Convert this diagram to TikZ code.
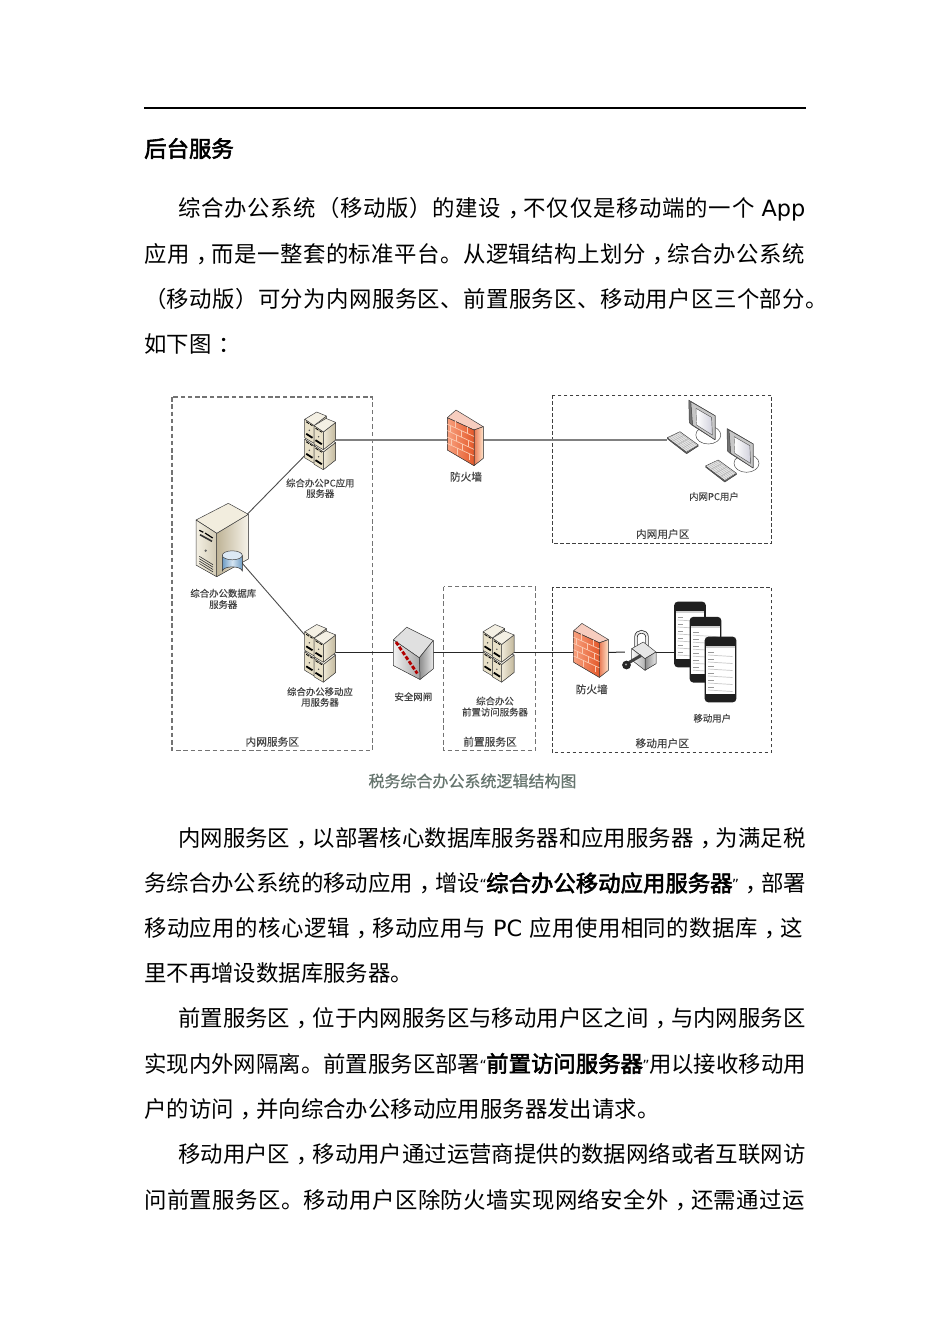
\documentclass[tikz,border=0pt]{standalone}
\usepackage{fontspec}
\usetikzlibrary{calc}
\setmainfont{Noto Sans CJK SC}
\newfontfamily\latinfont{DejaVu Sans}
\newcommand{\lat}[1]{{\latinfont #1}}
\newcommand{\spaced}[1]{\addfontfeature{LetterSpace=#1}}
\newcommand{\heavy}[1]{{\addfontfeature{FakeBold=2.5}#1}}
\newcommand{\cmm}{\kern.3em，\kern-.3em}
\newcommand{\cln}{\kern.3em：\kern-.3em}
\newcommand{\qopen}{\makebox[6pt][c]{\raisebox{2pt}{\fontsize{14}{14}\selectfont\latinfont “}}}
\newcommand{\qclose}{\makebox[6pt][c]{\raisebox{2pt}{\fontsize{14}{14}\selectfont\latinfont ”}}}
\definecolor{labelgray}{HTML}{444444}
\definecolor{capgray}{HTML}{66756E}
\definecolor{beige}{HTML}{E9E1C8}
\definecolor{beigedark}{HTML}{B3A684}
\definecolor{brickhi}{HTML}{F8A07E}
\definecolor{bricklo}{HTML}{E4592A}
\definecolor{brickline}{HTML}{FBC9B0}
\definecolor{cylside}{HTML}{6E9CC4}
\definecolor{cylmid}{HTML}{D5E5F2}
\definecolor{cyltop}{HTML}{DCE9F5}
\tikzset{
  bodyline/.style={anchor=base west,inner sep=0pt,font=\fontsize{22.4}{27}\selectfont},
  smalllabel/.style={inner sep=0pt,text=labelgray,font=\fontsize{9.4}{11}\selectfont\addfontfeature{FakeBold=.3}},
  zonelabel/.style={inner sep=0pt,text=labelgray,font=\fontsize{10.7}{12}\selectfont\addfontfeature{FakeBold=.3}},
  zonegray/.style={draw=black!55,line width=1.2pt,dash pattern=on 4.5pt off 2.8pt},
  zonedark/.style={draw=black!75,line width=1pt,dash pattern=on 3.6pt off 2.4pt},
  icon/.style={inner sep=0pt,minimum width=30pt,minimum height=30pt},
  graylink/.style={draw=black!50,line width=1.3pt},
  blacklink/.style={draw=black!85,line width=1pt},
  dblink/.style={draw=black!70,line width=.9pt},
  edge/.style={draw=black!75,line width=.5pt,line join=round},
  pics/srvunit/.style={code={
    \filldraw[edge,left color=beige!70!white,right color=beigedark!80!white] (9.3,6.3) -- (21.7,-3.3) -- (21.7,14.3) -- (9.3,24) -- cycle;
    \filldraw[edge,fill=beige!50] (0,0) -- (12,-7.3) -- (21.7,-3.3) -- (9.3,6.3) -- cycle;
    \filldraw[edge,fill=beige] (0,0) -- (9.3,6.3) -- (9.3,24) -- (0,18.5) -- cycle;
    \draw[black,line width=.8pt] (1.5,2.5) -- (4.5,4.5) (5.5,5) -- (7.8,6.5);
    \fill[black!70] (4.6,11) circle (.8);
    \draw[black,line width=1.8pt] (1.5,14.5) -- (7.8,18.5);
  }},
  pics/serverstack/.style={code={
    \pic at (-15.3,-.7) {srvunit};
    \pic at (-6,5.7) {srvunit};
    \pic at (-15.3,-20.7) {srvunit};
    \pic at (-6,-14.3) {srvunit};
  }},
  pics/bigserver/.style={code={
    \filldraw[edge,left color=beigedark!85!white,right color=beige!40!white] (-5.3,-6.7) -- (26.3,-25.7) -- (26.3,19) -- (-5.3,36.7) -- cycle;
    \filldraw[edge,fill=beige!60] (-26,-20) -- (6.3,-36.7) -- (26.3,-25.7) -- (-5.3,-6.7) -- cycle;
    \filldraw[edge,left color=beige!50,right color=beige!90!black] (-26,-20) -- (-5.3,-6.7) -- (-5.3,36.7) -- (-26,25) -- cycle;
    \draw[black,line width=1.2pt] (-22.7,-9.7) -- (-18.7,-7.7) (-17,-7) -- (-9.3,-2);
    \draw[black!80,line width=1.6pt] (-22,-5.3) -- (-10,1.3);
    \fill[black!60] (-16.3,10.7) circle (1.3);
    \foreach \v in {0,2.4,4.8,7.2}
      \draw[black!80,line width=.6pt] (-22.7,16.3+\v) -- (-9,24.7+\v);
    \filldraw[edge,left color=cylside,right color=cylside,middle color=cylmid] (.3,15.3) -- (.3,31.3) arc[start angle=180,end angle=360,x radius=10,y radius=4.5] -- (20.3,15.3) -- cycle;
    \filldraw[edge,fill=cyltop] (10.3,15.3) ellipse [x radius=10,y radius=4.5];
  }},
  pics/firewallicon/.style={code={
    \filldraw[edge,fill=bricklo!30!white] (-17.7,-22.3) -- (-9,-30) -- (18.3,-13.3) -- (9,-10) -- cycle;
    \filldraw[edge,left color=bricklo!80!white,right color=orange!20!white] (9,-10) -- (18.3,-13.3) -- (18.3,18.3) -- (9,25.7) -- cycle;
    \filldraw[edge,left color=brickhi,right color=bricklo] (-17.7,-22.3) -- (9,-10) -- (9,25.7) -- (-17.7,10) -- cycle;
    \begin{scope}[cm={1,-.46,0,1,(-17.7,-22.3)}]
      \foreach \r in {1,...,4}
        \draw[brickline,line width=.7pt] (0,{\r*6.46}) -- (26.7,{\r*6.46});
      \foreach \r/\xa/\xb in {0/8/20,1/3/14,2/9/21,3/4/15,4/10/22}
        \draw[brickline,line width=.7pt] (\xa,{\r*6.46}) -- (\xa,{(\r+1)*6.46}) (\xb,{\r*6.46}) -- (\xb,{(\r+1)*6.46});
    \end{scope}
  }},
  pics/gateicon/.style={code={
    \filldraw[edge,fill=black!12] (-19.7,-12.7) -- (-6.3,-25.3) -- (20.3,-12) -- (6.3,5.3) -- cycle;
    \filldraw[edge,left color=black!45,right color=black!8] (6.3,5.3) -- (20.3,-12) -- (20.3,16.3) -- (7,27) -- cycle;
    \filldraw[edge,left color=black!5,right color=black!35] (-19.7,-12.7) -- (6.3,5.3) -- (7,27) -- (-19.7,13) -- cycle;
    \draw[red!70!black,line width=2.8pt,dash pattern=on 4pt off 1.8pt] (-17,-10.5) -- (4.3,21);
  }},
  pics/pcuser/.style={code={
    \filldraw[draw=black!70,line width=.5pt,fill=white] (15,8.3) ellipse [x radius=12.5,y radius=9];
    \filldraw[edge,fill=black!55] (-4.5,-26.5) -- (21.7,-11) -- (21.7,13) -- (-1.5,-1.7) -- (-4,-4) -- cycle;
    \filldraw[edge,fill=black!22] (-2.5,-25) -- (21.7,-11) -- (21.7,13) -- (-.7,-1.7) -- cycle;
    \filldraw[draw=black!60,line width=.4pt,left color=white,right color=blue!25!black!18] (2.7,-18.3) -- (18.3,-9.3) -- (19,8.3) -- (3.3,-1.7) -- cycle;
    \filldraw[edge,fill=black!60] (-26,12) -- (-13.3,6) -- (5,19.3) -- (-6.7,27) -- cycle;
    \filldraw[edge,fill=black!10] (-26,11) -- (-13.3,5) -- (5,18.3) -- (-6.7,25.5) -- cycle;
    \foreach \t in {.25,.5,.75}
      \draw[black!30,line width=.4pt] ($(-26,11)!\t!(-6.7,25.5)$) -- ($(-13.3,5)!\t!(5,18.3)$);
    \foreach \t in {.15,.3,.45,.6,.75,.9}
      \draw[black!30,line width=.4pt] ($(-26,11)!\t!(-13.3,5)$) -- ($(-6.7,25.5)!\t!(5,18.3)$);
  }},
  pics/lockicon/.style={code={
    \draw[black!80,line width=3.4pt,line cap=round] (-4,-4) -- (-4,-15) .. controls (-4,-22) and (7,-22) .. (7,-15) -- (7,-2);
    \draw[black!8,line width=1.8pt,line cap=round] (-4,-4) -- (-4,-15) .. controls (-4,-22) and (7,-22) .. (7,-15) -- (7,-2);
    \filldraw[edge,fill=black!10] (-8.3,-3.3) -- (3.3,-10) -- (16,0) -- (5,6.7) -- cycle;
    \filldraw[edge,left color=black!45,right color=black!10] (5,6.7) -- (16,0) -- (16,11.7) -- (5,18.3) -- cycle;
    \filldraw[edge,left color=black!3,right color=black!30] (-8.3,-3.3) -- (5,6.7) -- (5,18.3) -- (-8.3,8) -- cycle;
    \draw[black!75,line width=3pt] (-11,10.5) -- (1,3.5);
    \fill[black!85] (-13.5,13) circle (4.4);
    \fill[black!35] (-14,12.5) circle (1.2);
  }},
  pics/phoneicon/.style={code={
    \fill[black!88,rounded corners=3.5pt] (-15.8,-32.8) rectangle (15.8,32.8);
    \fill[white] (-14.3,-24) rectangle (14.3,24);
    \fill[black!18] (-14.3,-24) rectangle (14.3,-21.5);
    \foreach \r in {0,...,5}{
      \draw[black!40,line width=.9pt] (-12.5,-17+\r*7) -- (-7,-17+\r*7);
      \draw[black!22,line width=.7pt] (-12.5,-14.5+\r*7) -- (12,-13+\r*7);
    }
  }},
}
\begin{document}
\begin{tikzpicture}[x=1pt,y=-1pt]
\useasboundingbox (0,0) rectangle (950,1344);
\fill[white] (0,0) rectangle (950,1344);
%heading
\draw[line width=2pt] (144,108) -- (806,108);
\node[bodyline] (head) at (144,157) {\heavy{后台服务}};
\node[bodyline] (a1) at (178,216.5) {\spaced{3.3}综合办公系统（移动版）的建设\cmm 不仅仅是移动端的一个\lat{ App}};
\node[bodyline] (a2) at (144,262) {\spaced{2}应用\cmm 而是一整套的标准平台。从逻辑结构上划分\cmm 综合办公系统};
\node[bodyline] (a3) at (144,307.5) {\spaced{1.8}（移动版）可分为内网服务区、前置服务区、移动用户区三个部分。};
\node[bodyline] (a4) at (144,352.5) {如下图\cln};
%zones
\draw[zonegray] (172,397) rectangle (372.3,750.7);
\draw[zonedark] (552.7,395) rectangle (771.7,543.3);
\draw[zonegray] (443.7,586.7) rectangle (535.7,750.7);
\draw[zonedark] (552.3,587) rectangle (771.3,752.7);
%icon places
\node[icon,minimum width=52pt,minimum height=74pt] (db) at (222,540) {};
\node[icon,minimum width=31pt,minimum height=57pt] (pcsrv) at (320,440) {};
\node[icon,minimum width=31pt,minimum height=57pt] (mobsrv) at (320,652.5) {};
\node[icon,minimum width=31pt,minimum height=57pt] (presrv) at (498.3,652.5) {};
\node[icon,minimum width=34pt,minimum height=56pt] (fw1) at (465,440) {};
\node[icon,minimum width=33pt,minimum height=55pt] (fw2) at (590.7,652.5) {};
\node[icon,minimum width=40pt,minimum height=52pt] (gate) at (413,652.5) {};
\node[icon,minimum width=26pt,minimum height=14pt] (kb) at (680,440) {};
\node[icon,minimum width=30pt,minimum height=36pt] (lock) at (640,652) {};
\node[icon,minimum width=31.6pt,minimum height=65.6pt] (phone1) at (690,634.5) {};
\node[icon,minimum width=31.6pt,minimum height=65.6pt] (phone2) at (705.5,649.7) {};
\node[icon,minimum width=31.6pt,minimum height=65.6pt] (phone3) at (720.5,669.5) {};
%links
\draw[dblink] (db.center) -- (pcsrv.center);
\draw[dblink] (db.center) -- (mobsrv.center);
\draw[graylink] (pcsrv) -- (fw1);
\draw[graylink] (fw1) -- (kb);
\draw[blacklink] (mobsrv) -- (gate);
\draw[blacklink] (gate) -- (presrv);
\draw[blacklink] (presrv) -- (fw2);
\draw[blacklink] (fw2) -- (lock);
\draw[blacklink] (lock) -- (lock -| phone1.west);
%icons
\pic at (db) {bigserver};
\pic at (pcsrv) {serverstack};
\pic at (mobsrv) {serverstack};
\pic at (presrv) {serverstack};
\pic at (fw1) {firewallicon};
\pic[scale=.97] at (fw2) {firewallicon};
\pic at (gate) {gateicon};
\pic at (693.3,426.7) {pcuser};
\pic at (731.5,455) {pcuser};
\pic at (lock) {lockicon};
\pic at (phone1) {phoneicon};
\pic at (phone2) {phoneicon};
\pic at (phone3) {phoneicon};
%labels
\node[smalllabel] (t1) at (320.3,483) {综合办公PC应用};
\node[smalllabel] (t2) at (320.3,493.5) {服务器};
\node[smalllabel] (t3) at (223.3,593.3) {综合办公数据库};
\node[smalllabel] (t4) at (223.3,604.5) {服务器};
\node[smalllabel] (t5) at (320,691.7) {综合办公移动应};
\node[smalllabel] (t6) at (320,702.3) {用服务器};
\node[smalllabel] (t7) at (413.3,696.7) {安全网闸};
\node[smalllabel] (t8) at (495,701) {综合办公};
\node[smalllabel] (t9) at (495,712) {前置访问服务器};
\node[smalllabel] (t10) at (714,496.5) {内网PC用户};
\node[smalllabel] (t11) at (712.3,718.3) {移动用户};
\node[zonelabel] (fwa) at (466,476.7) {防火墙};
\node[zonelabel] (fwb) at (591.7,689.3) {防火墙};
\node[zonelabel] (zone1) at (272.3,741.7) {内网服务区};
\node[zonelabel] (zone2) at (662.7,534) {内网用户区};
\node[zonelabel] (zone3) at (490,741.7) {前置服务区};
\node[zonelabel] (zone4) at (662.3,743.3) {移动用户区};
\node[inner sep=0pt,text=capgray,font=\fontsize{16}{18}\selectfont\addfontfeature{FakeBold=.6}] (cap) at (472.5,781) {税务综合办公系统逻辑结构图};
%body
\node[bodyline] (b1) at (178,846.5) {内网服务区\cmm 以部署核心数据库服务器和应用服务器\cmm 为满足税};
\node[bodyline] (b2) at (144,891.5) {务综合办公系统的移动应用\cmm 增设\qopen\heavy{综合办公移动应用服务器}\qclose\cmm 部署};
\node[bodyline] (b3) at (144,936.5) {\spaced{2.2}移动应用的核心逻辑\cmm 移动应用与\lat{ PC }应用使用相同的数据库\cmm 这};
\node[bodyline] (b4) at (144,981.5) {里不再增设数据库服务器。};
\node[bodyline] (c1) at (178,1026.5) {前置服务区\cmm 位于内网服务区与移动用户区之间\cmm 与内网服务区};
\node[bodyline] (c2) at (144,1072) {实现内外网隔离。前置服务区部署\qopen\heavy{前置访问服务器}\qclose 用以接收移动用};
\node[bodyline] (c3) at (144,1117.5) {户的访问\cmm 并向综合办公移动应用服务器发出请求。};
\node[bodyline] (d1) at (178,1162.5) {移动用户区\cmm 移动用户通过运营商提供的数据网络或者互联网访};
\node[bodyline] (d2) at (144,1208) {\spaced{1.9}问前置服务区。移动用户区除防火墙实现网络安全外\cmm 还需通过运};
\end{tikzpicture}
\end{document}
